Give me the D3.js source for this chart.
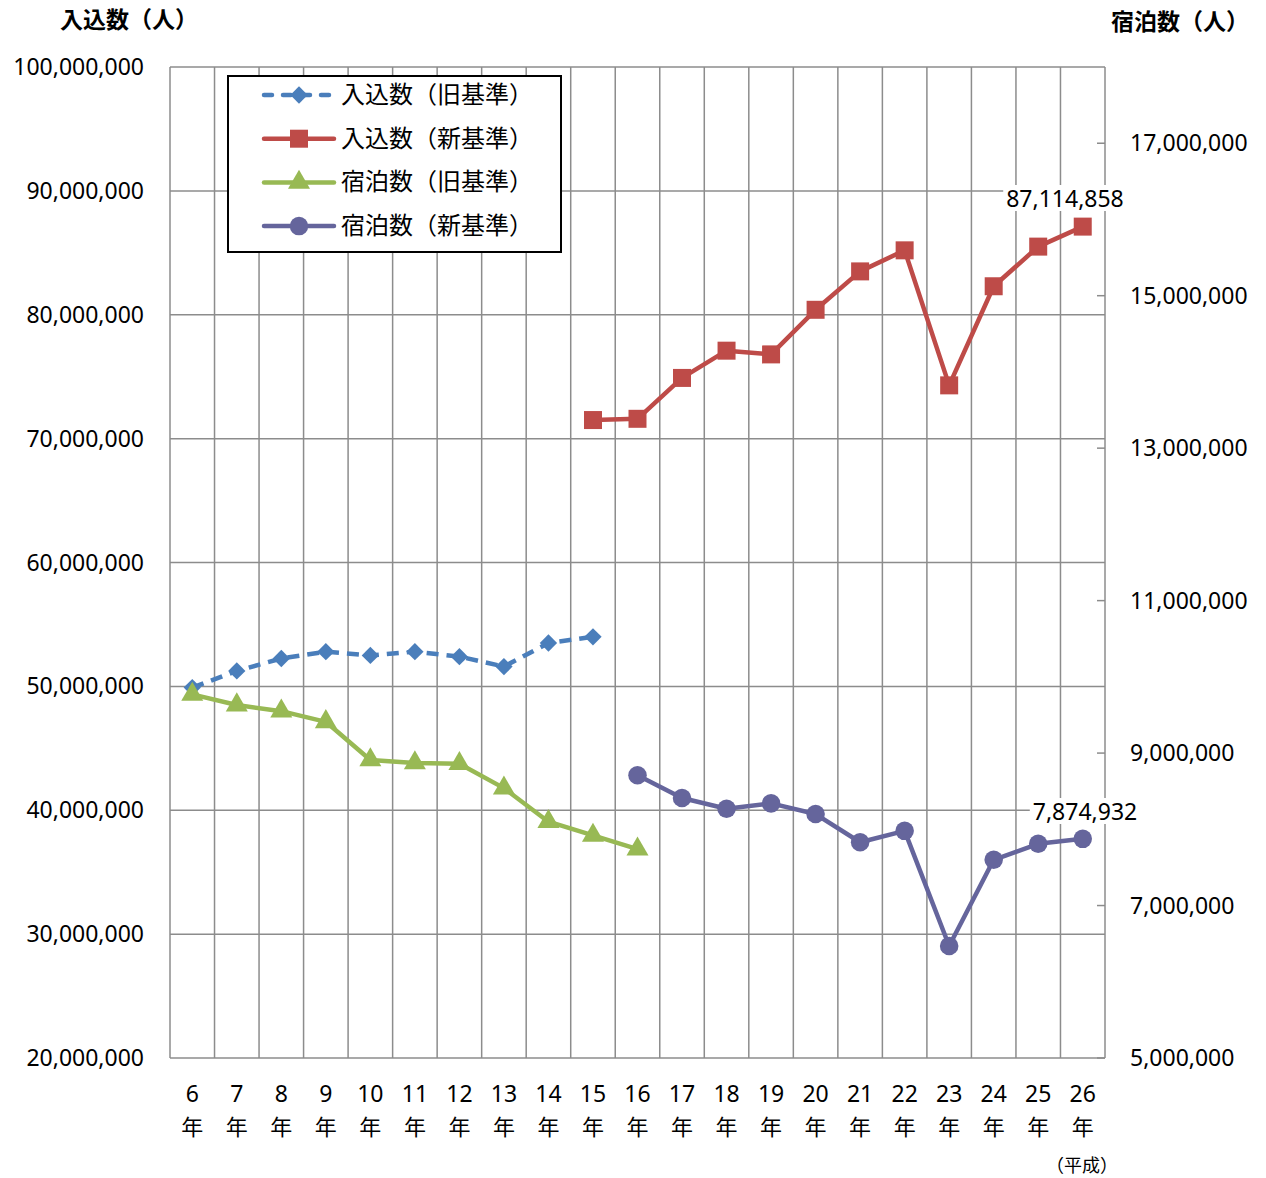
<!DOCTYPE html>
<meta charset="utf-8">
<style>
    html,
    body {
        margin: 0;
        padding: 0;
        background: #fff;
    }

    text {
        font-family: "Noto Sans CJK JP", "Noto Sans", sans-serif;
        fill: #000;
    }

    text.num {
        font-family: "Noto Sans", "Open Sans", sans-serif;
    }

    .grid line {
        stroke: #8c8c8c;
        stroke-width: 1.5px;
    }
</style>
<svg id="canvas" width="1266" height="1178"></svg>
<script src="https://d3js.org/d3.v7.min.js"></script>
<script>
    // years (平成)
    const years = [6, 7, 8, 9, 10, 11, 12, 13, 14, 15, 16, 17, 18, 19, 20, 21, 22, 23, 24, 25, 26];

    // 入込数（旧基準） H6-H15
    const visitorsOldYears = [6, 7, 8, 9, 10, 11, 12, 13, 14, 15];
    const visitorsOld = [49900000, 51250000, 52250000, 52800000, 52500000, 52800000, 52400000, 51600000, 53500000, 54000000];

    // 入込数（新基準） H15-H26
    const visitorsNewYears = [15, 16, 17, 18, 19, 20, 21, 22, 23, 24, 25, 26];
    const visitorsNew = [71500000, 71600000, 74900000, 77100000, 76800000, 80400000, 83500000, 85200000, 74300000, 82300000, 85500000, 87114858];

    // 宿泊数（旧基準） H6-H16
    const staysOldYears = [6, 7, 8, 9, 10, 11, 12, 13, 14, 15, 16];
    const staysOld = [9770000, 9630000, 9550000, 9410000, 8910000, 8870000, 8860000, 8540000, 8100000, 7920000, 7740000];

    // 宿泊数（新基準） H16-H26
    const staysNewYears = [16, 17, 18, 19, 20, 21, 22, 23, 24, 25, 26];
    const staysNew = [8710000, 8410000, 8270000, 8340000, 8200000, 7830000, 7980000, 6470000, 7600000, 7810000, 7874932];

    const leftTicks = [20000000, 30000000, 40000000, 50000000, 60000000, 70000000, 80000000, 90000000, 100000000];
    const rightTicks = [5000000, 7000000, 9000000, 11000000, 13000000, 15000000, 17000000];

    var svg = d3.select("svg");

    var x0 = 170, x1 = 1105, yTop = 67, yBot = 1058;

    var x = d3.scaleBand().domain(years).range([x0, x1]);
    var yL = d3.scaleLinear().domain([20000000, 100000000]).range([yBot, yTop]);
    var yR = d3.scaleLinear().domain([5000000, 18000000]).range([yBot, yTop]);
    var fmt = d3.format(",");

    // grid
    var grid = svg.append("g").attr("class", "grid");
    grid.selectAll("line.h")
        .data(leftTicks)
        .enter().append("line")
        .attr("x1", x0).attr("x2", x1)
        .attr("y1", d => yL(d)).attr("y2", d => yL(d));
    grid.selectAll("line.v")
        .data(d3.range(years.length + 1))
        .enter().append("line")
        .attr("x1", i => x0 + i * x.bandwidth()).attr("x2", i => x0 + i * x.bandwidth())
        .attr("y1", yTop).attr("y2", yBot);

    // right axis tick marks (inward)
    grid.selectAll("line.rt")
        .data(rightTicks)
        .enter().append("line")
        .attr("x1", x1 - 8).attr("x2", x1)
        .attr("y1", d => yR(d)).attr("y2", d => yR(d));

    // axis labels
    svg.append("g").selectAll("text")
        .data(leftTicks)
        .enter().append("text")
        .attr("class", "num")
        .attr("x", 144).attr("y", d => yL(d) + 8)
        .attr("text-anchor", "end")
        .style("font-size", "23px")
        .text(d => fmt(d));

    svg.append("g").selectAll("text")
        .data(rightTicks)
        .enter().append("text")
        .attr("class", "num")
        .attr("x", 1130).attr("y", d => yR(d) + 8)
        .style("font-size", "23px")
        .text(d => fmt(d));

    var xl = svg.append("g").selectAll("g")
        .data(years)
        .enter().append("g")
        .attr("transform", d => `translate(${x(d) + x.bandwidth() / 2},0)`);
    xl.append("text").attr("class", "num").attr("y", 1102).attr("text-anchor", "middle")
        .style("font-size", "23px").text(d => d);
    xl.append("text").attr("y", 1135).attr("text-anchor", "middle")
        .style("font-size", "22px").text("年");

    svg.append("text").attr("x", 1082).attr("y", 1172).attr("text-anchor", "middle")
        .style("font-size", "18px").text("（平成）");

    svg.append("text").attr("x", 60).attr("y", 28)
        .style("font-size", "23px").style("font-weight", "bold").text("入込数（人）");
    svg.append("text").attr("x", 1111).attr("y", 30)
        .style("font-size", "23px").style("font-weight", "bold").text("宿泊数（人）");

    // series
    var cx = d => x(d) + x.bandwidth() / 2;

    var series = [
        { name: "入込数（旧基準）", xs: visitorsOldYears, vs: visitorsOld, y: yL, color: "#4a7ebb", shape: d3.symbolSquare, size: 150, rot: 45, dash: "12,8" },
        { name: "入込数（新基準）", xs: visitorsNewYears, vs: visitorsNew, y: yL, color: "#be4b48", shape: d3.symbolSquare, size: 324, rot: 0, dash: null },
        { name: "宿泊数（旧基準）", xs: staysOldYears, vs: staysOld, y: yR, color: "#98b954", shape: d3.symbolTriangle, size: 210, rot: 0, dash: null },
        { name: "宿泊数（新基準）", xs: staysNewYears, vs: staysNew, y: yR, color: "#65659c", shape: d3.symbolCircle, size: 270, rot: 0, dash: null }
    ];

    series.forEach(function(s) {
        var pts = s.xs.map((yr, i) => [cx(yr), s.y(s.vs[i])]);
        svg.append("path")
            .attr("d", d3.line()(pts))
            .attr("fill", "none")
            .attr("stroke", s.color)
            .attr("stroke-width", 4.5)
            .attr("stroke-linejoin", "round")
            .attr("stroke-dasharray", s.dash);
        svg.append("g").selectAll("path")
            .data(pts)
            .enter().append("path")
            .attr("transform", p => `translate(${p[0]},${p[1]}) rotate(${s.rot})`)
            .attr("d", d3.symbol().type(s.shape).size(s.size))
            .attr("fill", s.color);
    });

    // data labels
    function dataLabel(xc, yc, txt) {
        var t = svg.append("text").attr("class", "num").attr("x", xc).attr("y", yc)
            .attr("text-anchor", "middle").style("font-size", "23px").text(txt);
        var b = t.node().getBBox();
        svg.insert("rect", function() { return t.node(); })
            .attr("x", b.x - 3).attr("y", b.y + 3).attr("width", b.width + 6).attr("height", b.height - 6)
            .attr("fill", "#fff");
    }
    dataLabel(1065, 207, fmt(visitorsNew[visitorsNew.length - 1]));
    dataLabel(1085, 820, fmt(staysNew[staysNew.length - 1]));

    // legend
    var lg = svg.append("g");
    lg.append("rect").attr("x", 228).attr("y", 76).attr("width", 333).attr("height", 176)
        .attr("fill", "#fff").attr("stroke", "#000").attr("stroke-width", 2);
    series.forEach(function(s, i) {
        var ly = 95 + i * 43.7;
        lg.append("line").attr("x1", 264).attr("x2", 334).attr("y1", ly).attr("y2", ly)
            .attr("stroke", s.color).attr("stroke-width", 4.5)
            .attr("stroke-linecap", "round")
            .attr("stroke-dasharray", s.dash ? "8,11" : null);
        lg.append("path").attr("transform", `translate(299,${ly}) rotate(${s.rot})`)
            .attr("d", d3.symbol().type(s.shape).size(s.size)).attr("fill", s.color);
        lg.append("text").attr("x", 341).attr("y", ly + 8)
            .style("font-size", "24px").text(s.name);
    });
</script>
